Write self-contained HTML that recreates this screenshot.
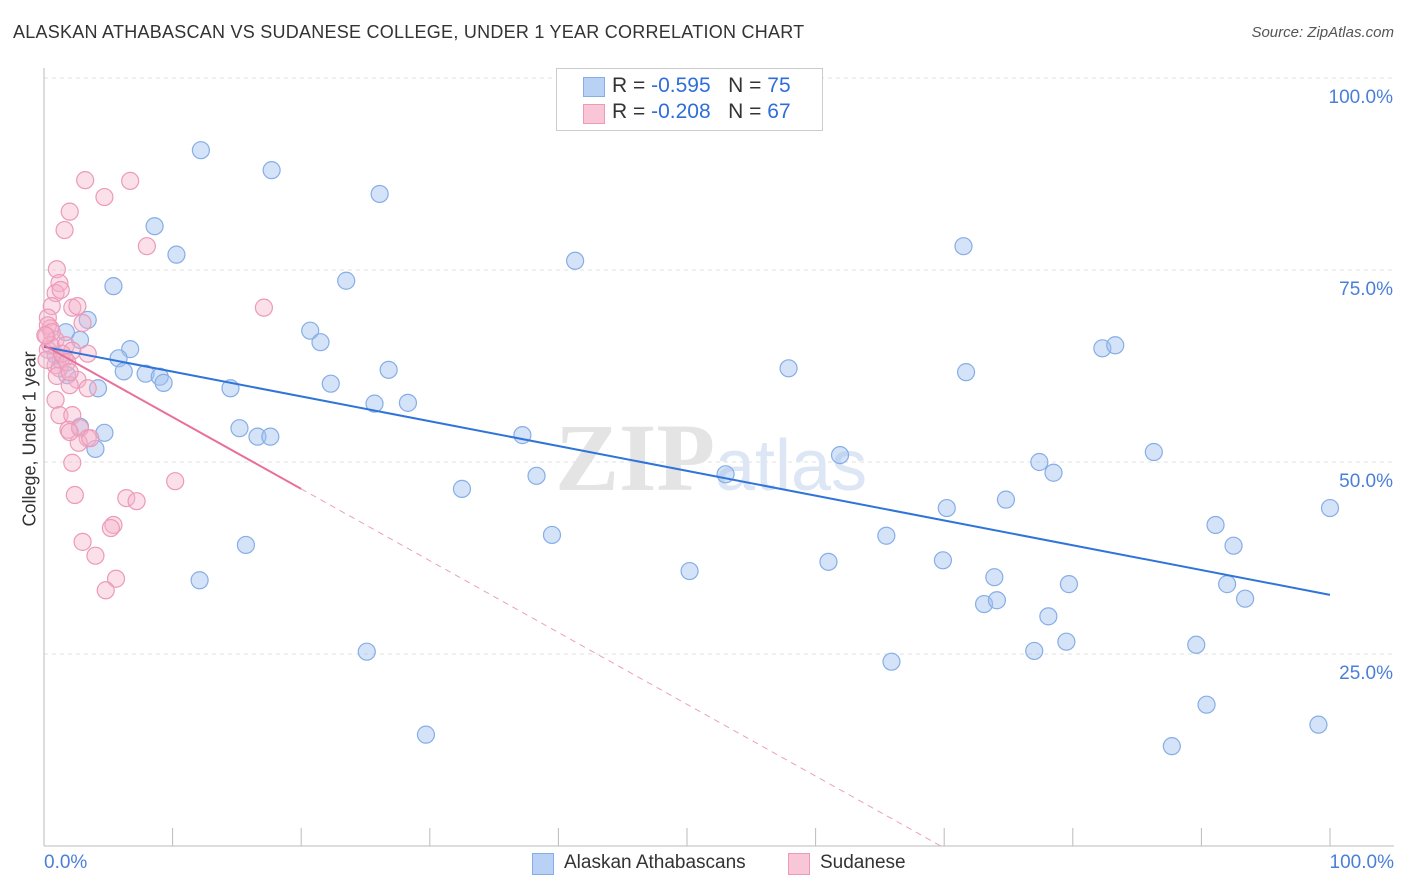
<!DOCTYPE html>
<html><head><meta charset="utf-8"><style>
body{margin:0;background:#fff;font-family:"Liberation Sans",sans-serif;}
#wrap{position:relative;width:1406px;height:892px;overflow:hidden;}
.t{position:absolute;white-space:nowrap;}
</style></head><body>
<div id="wrap">
<div class="t" style="left:13px;top:22px;font-size:18px;color:#333;letter-spacing:0.25px">ALASKAN ATHABASCAN VS SUDANESE COLLEGE, UNDER 1 YEAR CORRELATION CHART</div>
<div class="t" style="right:12px;top:24px;font-size:15px;color:#555;font-style:italic">Source: ZipAtlas.com</div>
<svg id="svg" width="1406" height="892" style="position:absolute;left:0;top:0"></svg>
</div>
<script>
const blueX=[12.2,17.7,26.1,8.6,10.3,71.5,41.3,5.4,23.5,3.4,1.7,20.7,21.5,6.7,5.8,6.2,7.9,9.0,9.3,22.3,14.5,26.8,57.9,71.7,82.3,83.3,4.2,1.8,1.3,25.7,28.3,15.2,16.6,17.6,4.7,4.0,2.8,37.2,32.5,38.3,53.0,61.9,77.4,78.5,86.3,100,74.8,70.2,91.1,92.5,39.5,65.5,15.7,12.1,50.2,61.0,69.9,73.9,79.7,92.0,93.4,73.1,74.1,78.1,25.1,65.9,77.0,79.5,89.6,90.4,99.1,87.7,29.7,2.8,0.9];
const blueY=[90.6,88.0,84.9,80.7,77.0,78.1,76.2,72.9,73.6,68.5,66.9,67.1,65.6,64.7,63.5,61.8,61.5,61.1,60.3,60.2,59.6,62.0,62.2,61.7,64.8,65.2,59.6,61.3,63.3,57.6,57.7,54.4,53.3,53.3,53.8,51.7,54.6,53.5,46.5,48.2,48.4,50.9,50.0,48.6,51.3,44.0,45.1,44.0,41.8,39.1,40.5,40.4,39.2,34.6,35.8,37.0,37.2,35.0,34.1,34.1,32.2,31.5,32.0,29.9,25.3,24.0,25.4,26.6,26.2,18.4,15.8,13.0,14.5,65.9,63.9];
const pinkX=[3.2,6.7,4.7,2.0,1.6,8.0,1.0,1.2,0.9,1.3,17.1,0.6,2.2,2.6,0.3,0.5,3.0,0.2,0.9,0.3,1.7,3.4,2.2,0.9,1.2,1.6,2.6,3.4,2.0,1.0,0.9,1.2,2.2,1.9,2.8,3.4,2.7,2.2,10.2,2.4,6.4,7.2,5.4,5.2,3.0,4.0,5.6,4.8,0.3,0.6,1.4,0.5,0.1,0.2,1.8,2.0,3.6,2.0];
const pinkY=[86.7,86.6,84.5,82.6,80.2,78.1,75.1,73.3,72.0,72.4,70.1,70.3,70.1,70.3,68.8,67.4,68.1,66.4,65.9,64.6,65.2,64.1,64.5,62.6,62.2,63.5,60.7,59.6,60.0,61.2,58.1,56.1,56.1,54.2,54.4,53.1,52.5,49.9,47.5,45.7,45.3,44.9,41.8,41.4,39.6,37.8,34.8,33.3,67.8,66.9,64.1,65.2,66.5,63.3,63.0,61.7,53.1,53.9];
const blueTrend=[65.0,-0.323];
const pinkTrend=[65.2,-0.935];
const yTicks=[25,50,75,100];
const xTickVals=[0,10,20,30,40,50,60,70,80,90,100];

const NS="http://www.w3.org/2000/svg";
const svg=document.getElementById('svg');
const X=v=>44+v*12.86, Y=v=>846-v*7.68;
function el(t,a,p){const e=document.createElementNS(NS,t);for(const k in a)e.setAttribute(k,a[k]);(p||svg).appendChild(e);return e;}
yTicks.forEach(v=>{
 const g=el('line',{x1:44,x2:1394,y1:Y(v),y2:Y(v),stroke:'#e0e0e0','stroke-dasharray':'4,4'});
 
 
 const t=el('text',{x:1393,y:Y(v)+25,'text-anchor':'end','font-size':19,fill:'#4a7fd8','font-family':'Liberation Sans'});
 t.textContent=v.toFixed(1)+'%';
 
 
});
const ax=el('line',{x1:44,x2:44,y1:68,y2:846,stroke:'#bbb'});


const bx=el('line',{x1:44,x2:1394,y1:846,y2:846,stroke:'#bbb'});


xTickVals.forEach(v=>{const t=el('line',{x1:X(v),x2:X(v),y1:828,y2:846,stroke:'#bbb'});
 
 });
const w=el('text',{x:555,y:490,'font-size':96,fill:'#e4e4e4','font-family':'Liberation Serif','font-weight':'bold'});w.textContent='ZIP';


const w2=el('text',{x:715,y:490,'font-size':72,fill:'#dce6f4','font-family':'Liberation Sans'});w2.textContent='atlas';


blueX.forEach((x,i)=>{const c=el('circle',{cx:X(x),cy:Y(blueY[i]),r:8.5,fill:'rgba(160,193,240,0.45)',stroke:'#86aee6','stroke-width':1.2});
 
 });
pinkX.forEach((x,i)=>{const c=el('circle',{cx:X(x),cy:Y(pinkY[i]),r:8.5,fill:'rgba(246,178,202,0.4)',stroke:'#ec9ab8','stroke-width':1.2});
 
 });
const bl=el('line',{x1:X(0),y1:Y(blueTrend[0]),x2:X(100),y2:Y(blueTrend[0]+blueTrend[1]*100),stroke:'#2f74d8','stroke-width':2});


const pEnd=20, pZero=-pinkTrend[0]/pinkTrend[1];
const pl=el('line',{x1:X(0),y1:Y(pinkTrend[0]),x2:X(pEnd),y2:Y(pinkTrend[0]+pinkTrend[1]*pEnd),stroke:'#e8709a','stroke-width':2});


const pd=el('line',{x1:X(pEnd),y1:Y(pinkTrend[0]+pinkTrend[1]*pEnd),x2:X(pZero),y2:Y(0),stroke:'#eaa0bb','stroke-width':1,'stroke-dasharray':'6,5'});


</script>
<div class="t" style="left:-40px;top:446px;transform:rotate(-90deg);font-size:18px;color:#333;width:140px;text-align:center">College, Under 1 year</div>
<div class="t" style="left:44px;top:852px;font-size:19px;color:#4a7fd8">0.0%</div>
<div class="t" style="right:12px;top:852px;font-size:19px;color:#4a7fd8">100.0%</div>
<div style="position:absolute;left:556px;top:68px;width:265px;height:61px;border:1px solid #ccc;background:#fff;font-size:21px;color:#333">
 <div style="position:absolute;left:26px;top:8px;width:20px;height:18px;background:#b8d1f4;border:1px solid #86aee6"></div>
 <div class="t" style="left:55px;top:5px">R = <span style="color:#2f6ed8">-0.595</span>&nbsp;&nbsp;&nbsp;N = <span style="color:#2f6ed8">75</span></div>
 <div style="position:absolute;left:26px;top:35px;width:20px;height:18px;background:#f8c6d6;border:1px solid #ec9ab8"></div>
 <div class="t" style="left:55px;top:31px">R = <span style="color:#2f6ed8">-0.208</span>&nbsp;&nbsp;&nbsp;N = <span style="color:#2f6ed8">67</span></div>
</div>
<div style="position:absolute;left:532px;top:852px;font-size:19px;color:#333">
 <div style="position:absolute;left:0;top:1px;width:20px;height:20px;background:#b8d1f4;border:1px solid #86aee6"></div>
 <div class="t" style="left:32px;top:0">Alaskan Athabascans</div>
 <div style="position:absolute;left:256px;top:1px;width:20px;height:20px;background:#f8c6d6;border:1px solid #ec9ab8"></div>
 <div class="t" style="left:288px;top:0">Sudanese</div>
</div>
</body></html>
